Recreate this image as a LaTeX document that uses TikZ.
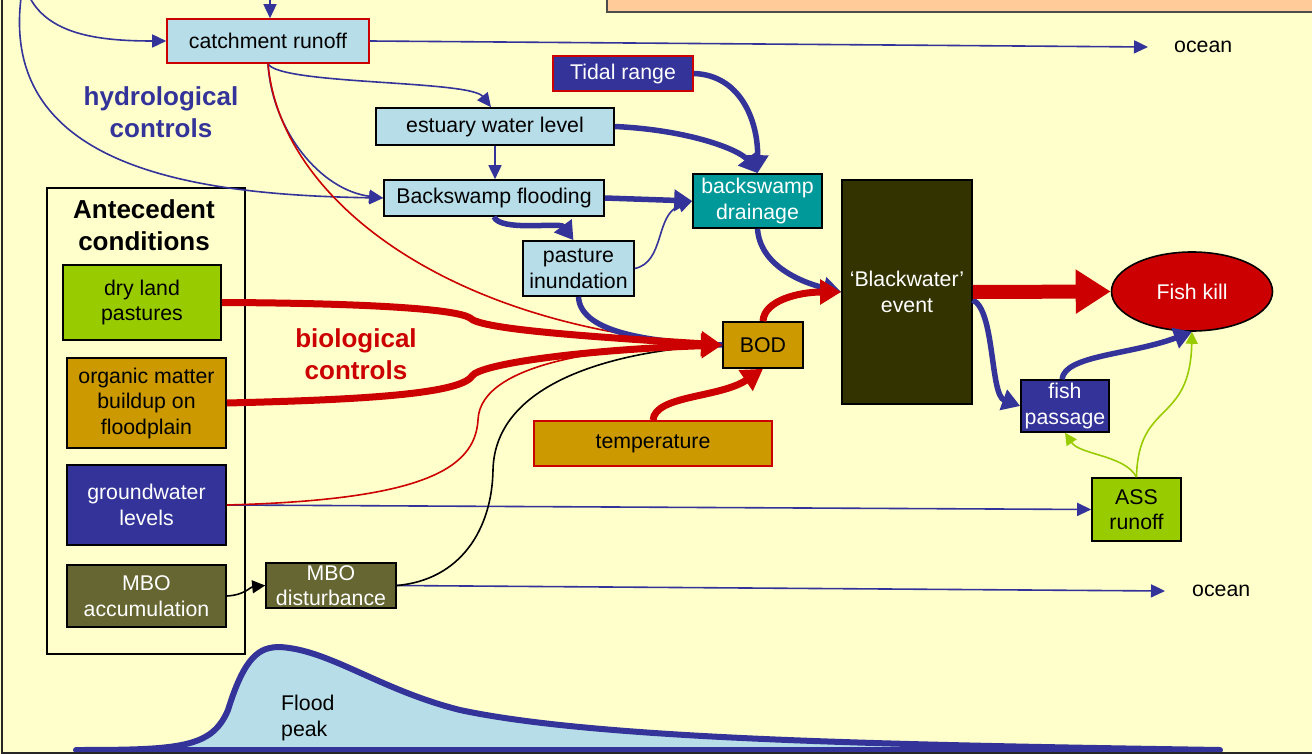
\documentclass[tikz,border=0pt]{standalone}
\usepackage{fontspec}
\setmainfont{Liberation Sans}
\usetikzlibrary{arrows.meta,shapes.geometric}
\definecolor{cPaper}{HTML}{FFFFCC}
\definecolor{cNavy}{HTML}{333399}
\definecolor{cRed}{HTML}{CC0000}
\definecolor{cPale}{HTML}{B7DEE8}
\definecolor{cTeal}{HTML}{009999}
\definecolor{cMud}{HTML}{333300}
\definecolor{cMustard}{HTML}{CC9900}
\definecolor{cLime}{HTML}{99CC00}
\definecolor{cKhaki}{HTML}{666633}
\definecolor{cPeach}{HTML}{FFCC99}
\newcommand\boxfont{\fontsize{21.3}{25.5}\selectfont}
\newcommand\headfont{\fontsize{26}{31.5}\selectfont\bfseries}
\tikzset{
	box/.style={draw=black, line width=1.6pt, inner sep=0pt, align=center, font=\boxfont},
	whitebox/.style={box, text=white},
	flow/.style={draw=cNavy, line width=1.6pt, -{Triangle[length=14pt,width=13pt]}},
	bigline/.style={draw=cNavy, line width=5.5pt},
	bigflow/.style={bigline, -{Triangle[length=18pt,width=21pt]}},
	thinred/.style={draw=cRed, line width=1.6pt},
	redflow/.style={draw=cRed, line width=7pt, -{Triangle[length=21pt,width=24pt]}},
	fatred/.style={draw=cRed, line width=14pt, -{Triangle[length=35pt,width=42pt]}},
	greenflow/.style={draw=cLime, line width=1.6pt, -{Triangle[length=12pt,width=12pt]}},
	thinblack/.style={draw=black, line width=1.6pt},
	blackflow/.style={thinblack, -{Triangle[length=13pt,width=13pt]}}
}
\begin{document}
\begin{tikzpicture}[x=1pt,y=-1pt]
	\useasboundingbox (0,0) rectangle (1312,754);
	\clip (0,0) rectangle (1312,754);
	\fill[cPaper] (0,0) rectangle (1312,754);
	\draw[fill=cPeach, draw=black!70, line width=1.5pt] (607,-20) rectangle (1330,12);
	
	\path[fill=cPale, draw=cNavy, line width=6pt, line join=round, line cap=round]
		(76,750) .. controls (180,750) and (212,748) .. (228,710)
		.. controls (245,655) and (260,647) .. (280,647)
		.. controls (330,650) and (380,690) .. (460,710)
		.. controls (600,740) and (900,745) .. (1220,750) -- cycle;
	\node[font=\boxfont, align=left, anchor=west, inner sep=0pt] (peak) at (281,718) {Flood\\peak};
	\draw[black!85, line width=1.5pt] (2,-10) -- (2,753) -- (1320,753);
	
	\node[box, fill=cPale, draw=cRed, minimum width=202pt, minimum height=44pt] (catch) at (268,41) {catchment runoff};
	\node[whitebox, fill=cNavy, draw=cRed, minimum width=140pt, minimum height=35pt] (tidal) at (623,73.5) {Tidal range};
	\node[box, fill=cPale, minimum width=238pt, minimum height=37pt] (estuary) at (495,126.5) {estuary water level};
	\node[box, fill=cPale, minimum width=220pt, minimum height=36pt] (flooding) at (494,198) {Backswamp flooding};
	\node[whitebox, fill=cTeal, minimum width=129pt, minimum height=54pt] (drainage) at (757.5,201) {backswamp\\drainage};
	\node[box, fill=cPale, minimum width=111pt, minimum height=55pt] (pasture) at (578.5,268.5) {pasture\\inundation};
	\node[whitebox, fill=cMud, minimum width=130pt, minimum height=224pt] (black) at (907,292) {‘Blackwater’\\event};
	\node[whitebox, ellipse, fill=cRed, minimum width=161pt, minimum height=79pt] (fishkill) at (1192,291.5) {Fish kill};
	\node[box, fill=cMustard, minimum width=80pt, minimum height=46pt] (bod) at (763,345) {BOD};
	\node[box, fill=cMustard, draw=cRed, minimum width=238pt, minimum height=45pt] (temp) at (653,443.5) {temperature};
	\node[whitebox, fill=cNavy, minimum width=88pt, minimum height=52pt] (passage) at (1065,406) {fish\\passage};
	\node[box, fill=cLime, minimum width=89pt, minimum height=63pt] (ass) at (1136.5,509.5) {ASS\\runoff};
	
	\node[draw=black, line width=1.6pt, minimum width=198pt, minimum height=466pt] (ante) at (146,421) {};
	\node[font=\headfont, align=center, inner sep=0pt] (antetitle) at (144,225) {Antecedent\\conditions};
	\node[box, fill=cLime, minimum width=158pt, minimum height=75pt] (dry) at (142,302.5) {dry land\\pastures};
	\node[box, fill=cMustard, minimum width=159pt, minimum height=90pt] (organic) at (146.5,403) {organic matter\\buildup on\\floodplain};
	\node[whitebox, fill=cNavy, minimum width=159pt, minimum height=80pt] (ground) at (146.5,505) {groundwater\\levels};
	\node[whitebox, fill=cKhaki, minimum width=159pt, minimum height=62pt] (mboacc) at (146.5,596) {MBO\\accumulation};
	\node[whitebox, fill=cKhaki, minimum width=130pt, minimum height=45pt] (mbodist) at (331,585.5) {MBO\\disturbance};
	
	\node[font=\boxfont, anchor=west, inner sep=0pt] (ocean1) at (1174,47) {ocean};
	\node[font=\boxfont, anchor=west, inner sep=0pt] (ocean2) at (1192,591) {ocean};
	\node[font=\headfont, text=cNavy, align=center, inner sep=0pt] (hydro) at (161,112) {hydrological\\controls};
	\node[font=\headfont, text=cRed, align=center, inner sep=0pt] (bio) at (356,354) {biological\\controls};
	
	\coordinate (top1) at (270,-2);
	\coordinate (top2) at (30,-2);
	\coordinate (top3) at (21,-2);
	
	\draw[flow] (top1) -- (top1 |- catch.north);
	\draw[flow] (top2) .. controls (50,35) and (100,41) .. (catch.west);
	\draw[flow] (top3) .. controls (0,170) and (200,195) .. (flooding.west);
	\draw[flow] (catch.east) -- ([xshift=-26pt]ocean1.west);
	\draw[flow] (catch.south) .. controls (280,85) and (470,80) .. ([xshift=-4pt]estuary.north);
	\draw[flow] (catch.south) .. controls (272,130) and (320,190) .. (flooding.west);
	\draw[thinred] (catch.south) .. controls (280,200) and (450,330) .. (bod.west);
	\draw[flow] (estuary.south) -- (estuary.south |- flooding.north);
	\draw[flow] (pasture.east) .. controls (665,262) and (655,215) .. (drainage.west);
	\draw[flow] (ground.east) -- (ass.west);
	\draw[flow] (mbodist.east) -- ([xshift=-27pt]ocean2.west);
	\draw[thinred] (ground.east) .. controls (420,500) and (475,470) .. (478,420) .. controls (480,360) and (620,345) .. (bod.west);
	\draw[thinblack] (mbodist.east) .. controls (460,580) and (492,530) .. (493,470) .. controls (495,380) and (620,350) .. (bod.west);
	\draw[blackflow] (mboacc.east) .. controls (245,595) and (250,587) .. (mbodist.west);
	
	\draw[bigflow] (estuary.east) .. controls (690,130) and (740,150) .. (drainage.north);
	\draw[bigflow] (tidal.east) .. controls (740,75) and (758,120) .. (drainage.north);
	\draw[bigflow] (flooding.east) -- (drainage.west);
	\draw[bigflow] (flooding.south) .. controls (500,232) and (560,222) .. ([xshift=-5pt]pasture.north);
	\draw[bigline] (pasture.south) .. controls (580,330) and (640,342) .. (bod.west);
	\draw[bigflow] (drainage.south) .. controls (760,265) and (800,282) .. (black.west);
	\draw[bigflow] ([yshift=-8pt]black.east) .. controls (995,310) and (990,395) .. (passage.west);
	\draw[bigflow] ([xshift=-3pt]passage.north) .. controls (1065,355) and (1130,355) .. (fishkill.south);
	\draw[greenflow] (ass.north) .. controls (1125,455) and (1080,455) .. (passage.south);
	\draw[greenflow] (ass.north) .. controls (1138,400) and (1190,425) .. (fishkill.south);
	
	\draw[redflow] (dry.east) .. controls (350,303) and (455,308) .. (470,318) .. controls (480,328) and (560,335) .. (bod.west);
	\draw[redflow] (organic.east) .. controls (350,400) and (460,395) .. (472,376) .. controls (480,364) and (580,350) .. (bod.west);
	\draw[redflow] (temp.north) .. controls (655,395) and (720,398) .. (bod.south);
	\draw[redflow] (bod.north) .. controls (764,300) and (800,292) .. (black.west);
	\draw[fatred] (black.east) -- (fishkill.west);
	
\end{tikzpicture}
\end{document}
